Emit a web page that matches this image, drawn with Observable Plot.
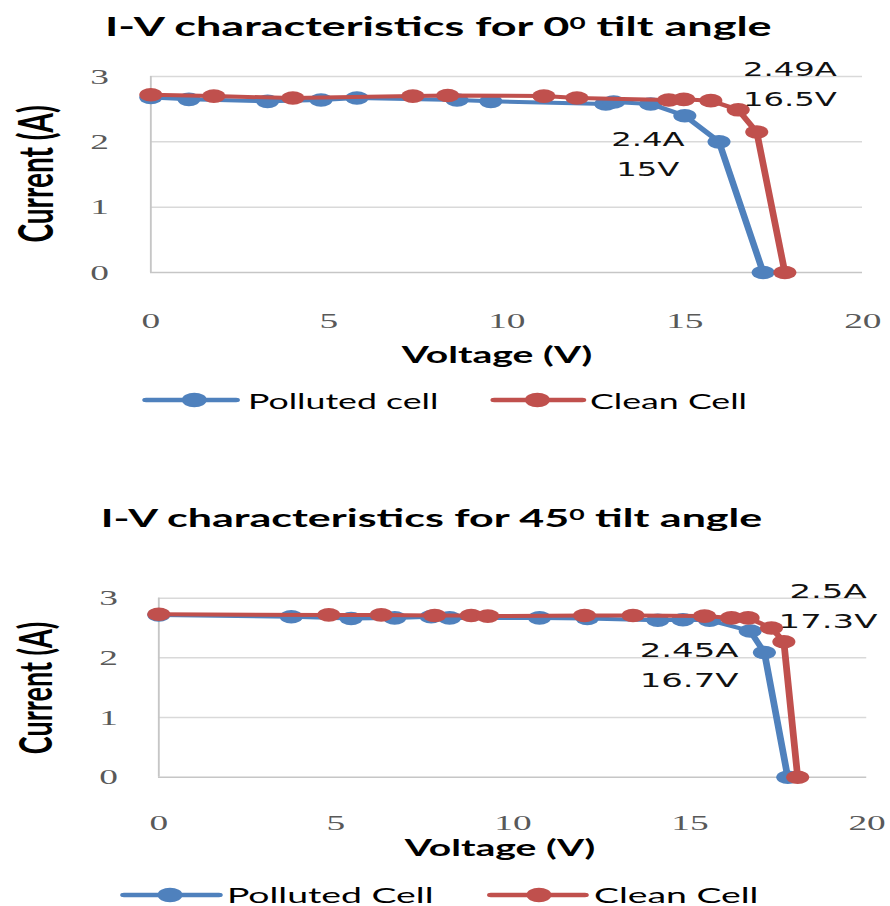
<!DOCTYPE html>
<html><head><meta charset="utf-8">
<script src="https://cdn.jsdelivr.net/npm/d3@7"></script>
<script src="https://cdn.jsdelivr.net/npm/@observablehq/plot@0.6"></script>
<style>
html,body{margin:0;padding:0;background:#fff;overflow:hidden}
#page{position:relative;width:524px;height:906px;transform:scaleX(1.6985);transform-origin:0 0;}
.t{position:absolute;white-space:nowrap;line-height:1;font-family:Lato,sans-serif;color:#000}
.plot{position:absolute;left:0}
.sup{font-size:0.62em;position:relative;top:-0.45em}
</style></head><body><div id="page"></div>
<script>
// ---- data ----
const xTicks = [0, 5, 10, 15, 20];
const yTicks = [0, 1, 2, 3];
const seriesNames0 = ["Polluted cell", "Clean Cell"];
const seriesNames45 = ["Polluted Cell", "Clean Cell"];

// 0° tilt
const pollutedV0 = [0, 1.07, 3.28, 4.78, 5.79, 8.6, 9.55, 12.78, 13.0, 14.04, 15.0, 15.96, 17.2];
const pollutedI0 = [2.68, 2.65, 2.62, 2.64, 2.67, 2.64, 2.62, 2.58, 2.61, 2.58, 2.4, 2.0, 0];
const cleanV0 = [0, 1.77, 3.99, 7.36, 8.34, 11.04, 11.97, 14.55, 14.97, 15.73, 16.5, 17.02, 17.81];
const cleanI0 = [2.72, 2.70, 2.67, 2.70, 2.71, 2.70, 2.67, 2.64, 2.65, 2.63, 2.49, 2.15, 0];
const pollutedLabel0 = {V: 15, I: 2.4};
const cleanLabel0 = {V: 16.5, I: 2.49};

// 45° tilt
const pollutedV45 = [0, 3.74, 5.43, 6.66, 7.69, 8.21, 10.75, 12.1, 14.09, 14.8, 15.55, 16.7, 17.1, 17.76];
const pollutedI45 = [2.72, 2.69, 2.66, 2.67, 2.69, 2.67, 2.67, 2.66, 2.63, 2.64, 2.63, 2.45, 2.09, 0];
const cleanV45 = [0, 4.8, 6.28, 7.79, 8.82, 9.29, 12.02, 13.39, 15.41, 16.17, 16.64, 17.3, 17.65, 18.04];
const cleanI45 = [2.73, 2.72, 2.72, 2.71, 2.71, 2.70, 2.71, 2.71, 2.70, 2.67, 2.67, 2.5, 2.27, 0];
const pollutedLabel45 = {V: 16.7, I: 2.45};
const cleanLabel45 = {V: 17.3, I: 2.5};

// ---- styling ----
const BLUE = "#4f81bd", RED = "#c0504d";
const W = 524;
const page = document.getElementById("page");

function addText(html, o) {
  const d = document.createElement("div");
  d.className = "t";
  d.innerHTML = html;
  Object.assign(d.style, o);
  page.appendChild(d);
  return d;
}

function chart(o) {
  const polluted = o.pv.map((v, i) => ({V: v, I: o.pi[i]}));
  const clean = o.cv.map((v, i) => ({V: v, I: o.ci[i]}));
  const lab = d => `${d.I}A\n${d.V}V`;
  const svg = Plot.plot({
    width: W, height: o.h,
    marginLeft: o.ml, marginRight: o.mr, marginTop: o.mt, marginBottom: o.mb,
    x: {domain: [0, 20]},
    y: {domain: [0, 3]},
    style: {fontFamily: "'Liberation Serif', serif", fontSize: "22px", color: "#595959", background: "none", overflow: "visible"},
    marks: [
      Plot.gridY(yTicks.filter(d => d > 0), {stroke: "#d9d9d9", strokeOpacity: 1, strokeWidth: 1.5}),
      Plot.ruleY([0], {stroke: "#c6c6c6", strokeWidth: 1.5}),
      Plot.ruleX([0], {stroke: "#c6c6c6", strokeWidth: 1.1}),
      Plot.axisX(xTicks, {tickSize: 0, tickPadding: o.xpad, label: null, tickFormat: d => String(d), fill: "#595959"}),
      Plot.axisY(yTicks, {tickSize: 0, tickPadding: o.ypad, label: null, tickFormat: d => String(d), fill: "#595959"}),
      Plot.line(polluted, {x: "V", y: "I", stroke: BLUE, strokeWidth: 4}),
      Plot.dot(polluted, {x: "V", y: "I", r: 6.8, fill: BLUE}),
      Plot.line(clean, {x: "V", y: "I", stroke: RED, strokeWidth: 4}),
      Plot.dot(clean, {x: "V", y: "I", r: 6.8, fill: RED}),
      Plot.text([o.cl], {x: "V", y: "I", text: lab, dx: o.cdx, dy: o.cdy, textAnchor: "middle", lineAnchor: "middle", lineHeight: o.lh, fontFamily: "'DejaVu Sans', sans-serif", fontSize: o.afs, fill: "#111"}),
      Plot.text([o.pl], {x: "V", y: "I", text: lab, dx: o.pdx, dy: o.pdy, textAnchor: "middle", lineAnchor: "middle", lineHeight: o.lh, fontFamily: "'DejaVu Sans', sans-serif", fontSize: o.afs, fill: "#111"})
    ]
  });
  svg.classList.add("plot");
  svg.style.top = o.top + "px";
  page.appendChild(svg);

  // title
  addText(o.title, {left: o.titleX + "px", top: o.titleTop + "px", fontSize: o.titleFs + "px", fontWeight: "700"});
  // y label
  addText("Current (A)", {left: o.ylabX + "px", top: o.ylabY + "px", fontSize: o.ylabFs + "px", fontWeight: "700", transform: "translate(-50%,-50%) rotate(-90deg)"});
  // x label
  addText("Voltage (V)", {left: (o.xlabX - 100) + "px", width: "200px", textAlign: "center", top: o.xlabTop + "px", fontSize: o.xlabFs + "px", fontWeight: "700"});
  // legend
  o.legend.forEach((it, k) => {
    const color = k === 0 ? BLUE : RED;
    const s = document.createElementNS("http://www.w3.org/2000/svg", "svg");
    s.setAttribute("width", it.x2 - it.x1 + 16);
    s.setAttribute("height", 20);
    s.style.position = "absolute";
    s.style.left = (it.x1 - 8) + "px";
    s.style.top = (o.legY - 10) + "px";
    s.innerHTML = `<line x1="8" x2="${it.x2 - it.x1 + 8}" y1="10" y2="10" stroke="${color}" stroke-width="4.5" stroke-linecap="round"/>` +
      `<circle cx="${it.dot - it.x1 + 8}" cy="10" r="7.3" fill="${color}"/>`;
    page.appendChild(s);
    addText(o.names[k], {left: it.tx + "px", top: o.legTop + "px", fontSize: o.legFs + "px"});
  });
}

chart({
  pv: pollutedV0, pi: pollutedI0, cv: cleanV0, ci: cleanI0, pl: pollutedLabel0, cl: cleanLabel0,
  names: seriesNames0,
  top: 40, h: 300, ml: 88.3, mr: 16.5, mt: 36, mb: 68, xpad: 40, ypad: 24.7,
  afs: 19, lh: 1.6, cdx: 30.4, cdy: -28.8, pdx: -21.8, pdy: 35.3,
  title: 'I-V characteristics for 0<span class="sup">0</span> tilt angle', titleX: 61.8, titleTop: 13, titleFs: 26.5,
  ylabX: 19.7, ylabY: 173.5, ylabFs: 28,
  xlabX: 292.6, xlabTop: 342.6, xlabFs: 23,
  legY: 400, legTop: 389.7, legFs: 21,
  legend: [{x1: 86.4, x2: 139.4, dot: 114.8, tx: 146}, {x1: 290.8, x2: 342.7, dot: 316.2, tx: 347.4}]
});

chart({
  pv: pollutedV45, pi: pollutedI45, cv: cleanV45, ci: cleanI45, pl: pollutedLabel45, cl: cleanLabel45,
  names: seriesNames45,
  top: 560, h: 300, ml: 93, mr: 14, mt: 37.7, mb: 83.3, xpad: 37, ypad: 24,
  afs: 20, lh: 1.5, cdx: 33.3, cdy: -24.5, pdx: -36, pdy: 31,
  title: 'I-V characteristics for 45<span class="sup">0</span> tilt angle', titleX: 59.4, titleTop: 504.8, titleFs: 25.3,
  ylabX: 19.7, ylabY: 687.5, ylabFs: 27,
  xlabX: 294.4, xlabTop: 835.6, xlabFs: 23,
  legY: 895, legTop: 883.8, legFs: 22,
  legend: [{x1: 73, x2: 128.9, dot: 100.1, tx: 133.6}, {x1: 289, x2: 344.4, dot: 317.3, tx: 349.7}]
});
</script>
</body></html>
